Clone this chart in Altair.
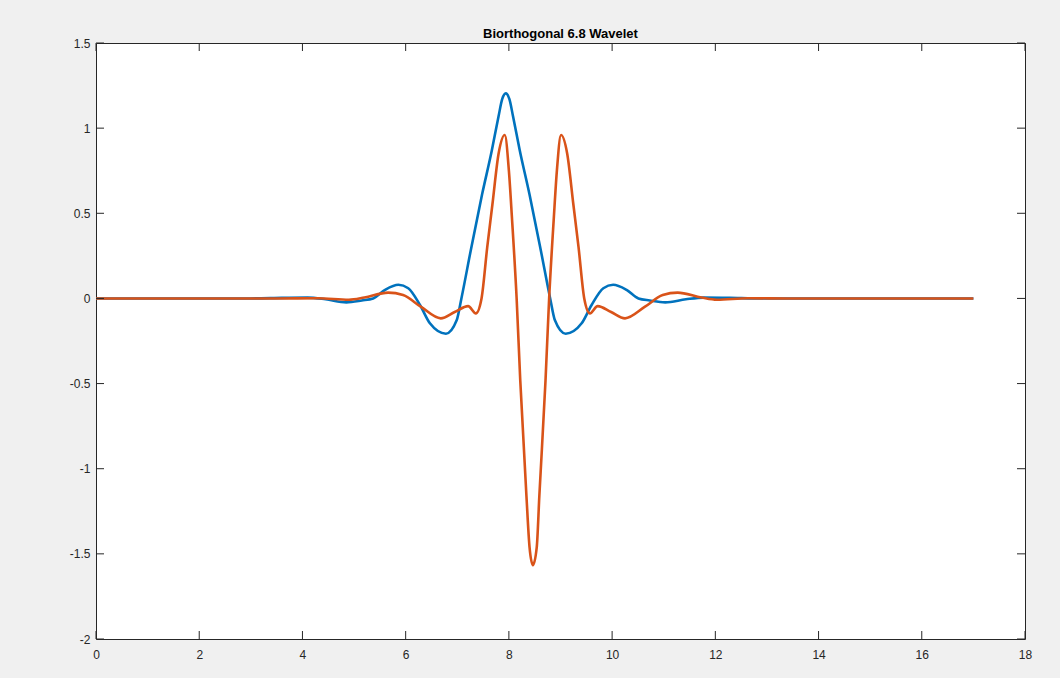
import altair as alt
import pandas as pd

# ---- data ----
blue_x = [0, 3.0, 3.6, 4.1, 4.45, 4.85, 5.15, 5.37, 5.6, 5.86, 6.05, 6.28, 6.47, 6.78,
          6.99, 7.08, 7.26, 7.48, 7.67, 7.80, 7.87, 7.94, 8.01, 8.08, 8.21, 8.40, 8.62, 8.80,
          8.89, 9.10, 9.41, 9.60, 9.83, 10.02, 10.28, 10.51, 10.73, 11.03, 11.43,
          11.78, 12.28, 12.9, 17.0]
blue_y = [0, 0, 0.003, 0.005, -0.005, -0.023, -0.012, 0.0, 0.05, 0.08, 0.06, -0.04, -0.146, -0.207,
          -0.127, 0.0, 0.28, 0.61, 0.87, 1.07, 1.17, 1.204, 1.17, 1.07, 0.87, 0.61, 0.28, 0.0,
          -0.127, -0.207, -0.146, -0.04, 0.06, 0.08, 0.05, 0.0, -0.012, -0.023, -0.005,
          0.005, 0.003, 0, 0]

orange_x = [0, 3.5, 4.3, 4.9, 5.2, 5.66, 5.95, 6.3, 6.68, 6.95, 7.21, 7.36, 7.47, 7.58,
            7.68, 7.80, 7.92, 8.00, 8.06, 8.15, 8.22, 8.34, 8.40, 8.465, 8.54, 8.59,
            8.71, 8.78, 8.87, 8.93, 9.01, 9.13, 9.25, 9.35, 9.46, 9.57, 9.72, 9.98,
            10.25, 10.63, 10.98, 11.27, 11.73, 12.03, 12.63, 13.4, 17.0]
orange_y = [0, 0, 0.001, -0.008, 0.005, 0.034, 0.02, -0.05, -0.117, -0.08, -0.045, -0.088, 0.0, 0.3,
            0.55, 0.85, 0.96, 0.75, 0.47, 0.0, -0.48, -1.16, -1.46, -1.566, -1.46, -1.16,
            -0.48, 0.0, 0.47, 0.75, 0.96, 0.85, 0.55, 0.3, 0.0, -0.088, -0.045, -0.08,
            -0.117, -0.05, 0.02, 0.034, 0.005, -0.008, 0.001, 0, 0]

x_ticks = [0, 2, 4, 6, 8, 10, 12, 14, 16, 18]
y_ticks = [-2, -1.5, -1, -0.5, 0, 0.5, 1, 1.5]

W, H = 929, 596
AX = "#262626"
FONT = "Liberation Sans"

xs = alt.Scale(domain=[0, 18], nice=False, zero=False)
ys = alt.Scale(domain=[-2, 1.5], nice=False, zero=False)

x_axis = alt.Axis(values=x_ticks, grid=False, domain=False, ticks=False, tickSize=0,
                  labelPadding=10, labelFontSize=12, labelFont=FONT, labelColor=AX,
                  labelFlush=False, title=None, labelExpr="datum.value + ''")
y_axis = alt.Axis(values=y_ticks, grid=False, domain=False, ticks=False, tickSize=0,
                  labelPadding=6, labelFontSize=12, labelFont=FONT, labelColor=AX,
                  labelFlush=False, title=None, labelExpr="datum.value + ''")

blue = alt.Chart(pd.DataFrame({"x": blue_x, "y": blue_y})).mark_line(
    color="#0072BD", strokeWidth=2.6, interpolate="monotone"
).encode(x=alt.X("x:Q", scale=xs, axis=x_axis), y=alt.Y("y:Q", scale=ys, axis=y_axis))

orange = alt.Chart(pd.DataFrame({"x": orange_x, "y": orange_y})).mark_line(
    color="#D95319", strokeWidth=2.6, interpolate="monotone"
).encode(x=alt.X("x:Q", scale=xs, axis=x_axis), y=alt.Y("y:Q", scale=ys, axis=y_axis))

xt = pd.DataFrame({"x": x_ticks})
yt = pd.DataFrame({"y": y_ticks})
TL = 8

bottom_ticks = alt.Chart(xt).mark_rule(color=AX, strokeWidth=1).encode(
    x=alt.X("x:Q", scale=xs, axis=x_axis), y=alt.value(H), y2=alt.value(H - TL))
top_ticks = alt.Chart(xt).mark_rule(color=AX, strokeWidth=1).encode(
    x=alt.X("x:Q", scale=xs, axis=x_axis), y=alt.value(0), y2=alt.value(TL))
left_ticks = alt.Chart(yt).mark_rule(color=AX, strokeWidth=1).encode(
    y=alt.Y("y:Q", scale=ys, axis=y_axis), x=alt.value(0), x2=alt.value(TL))
right_ticks = alt.Chart(yt).mark_rule(color=AX, strokeWidth=1).encode(
    y=alt.Y("y:Q", scale=ys, axis=y_axis), x=alt.value(W - TL), x2=alt.value(W))

chart = alt.layer(blue, orange, bottom_ticks, top_ticks, left_ticks, right_ticks).properties(
    width=W, height=H,
    title=alt.TitleParams("Biorthogonal 6.8 Wavelet", fontSize=13, fontWeight="bold",
                          font=FONT, color="black", offset=-4, anchor="middle"),
    autosize=alt.AutoSizeParams(type="none"),
    padding={"left": 96, "top": 43, "right": 35, "bottom": 39},
    background="#f0f0f0",
).configure_view(stroke=AX, strokeWidth=1, fill="white")

chart.save("out.html", embed_options={"renderer": "svg", "actions": False})
